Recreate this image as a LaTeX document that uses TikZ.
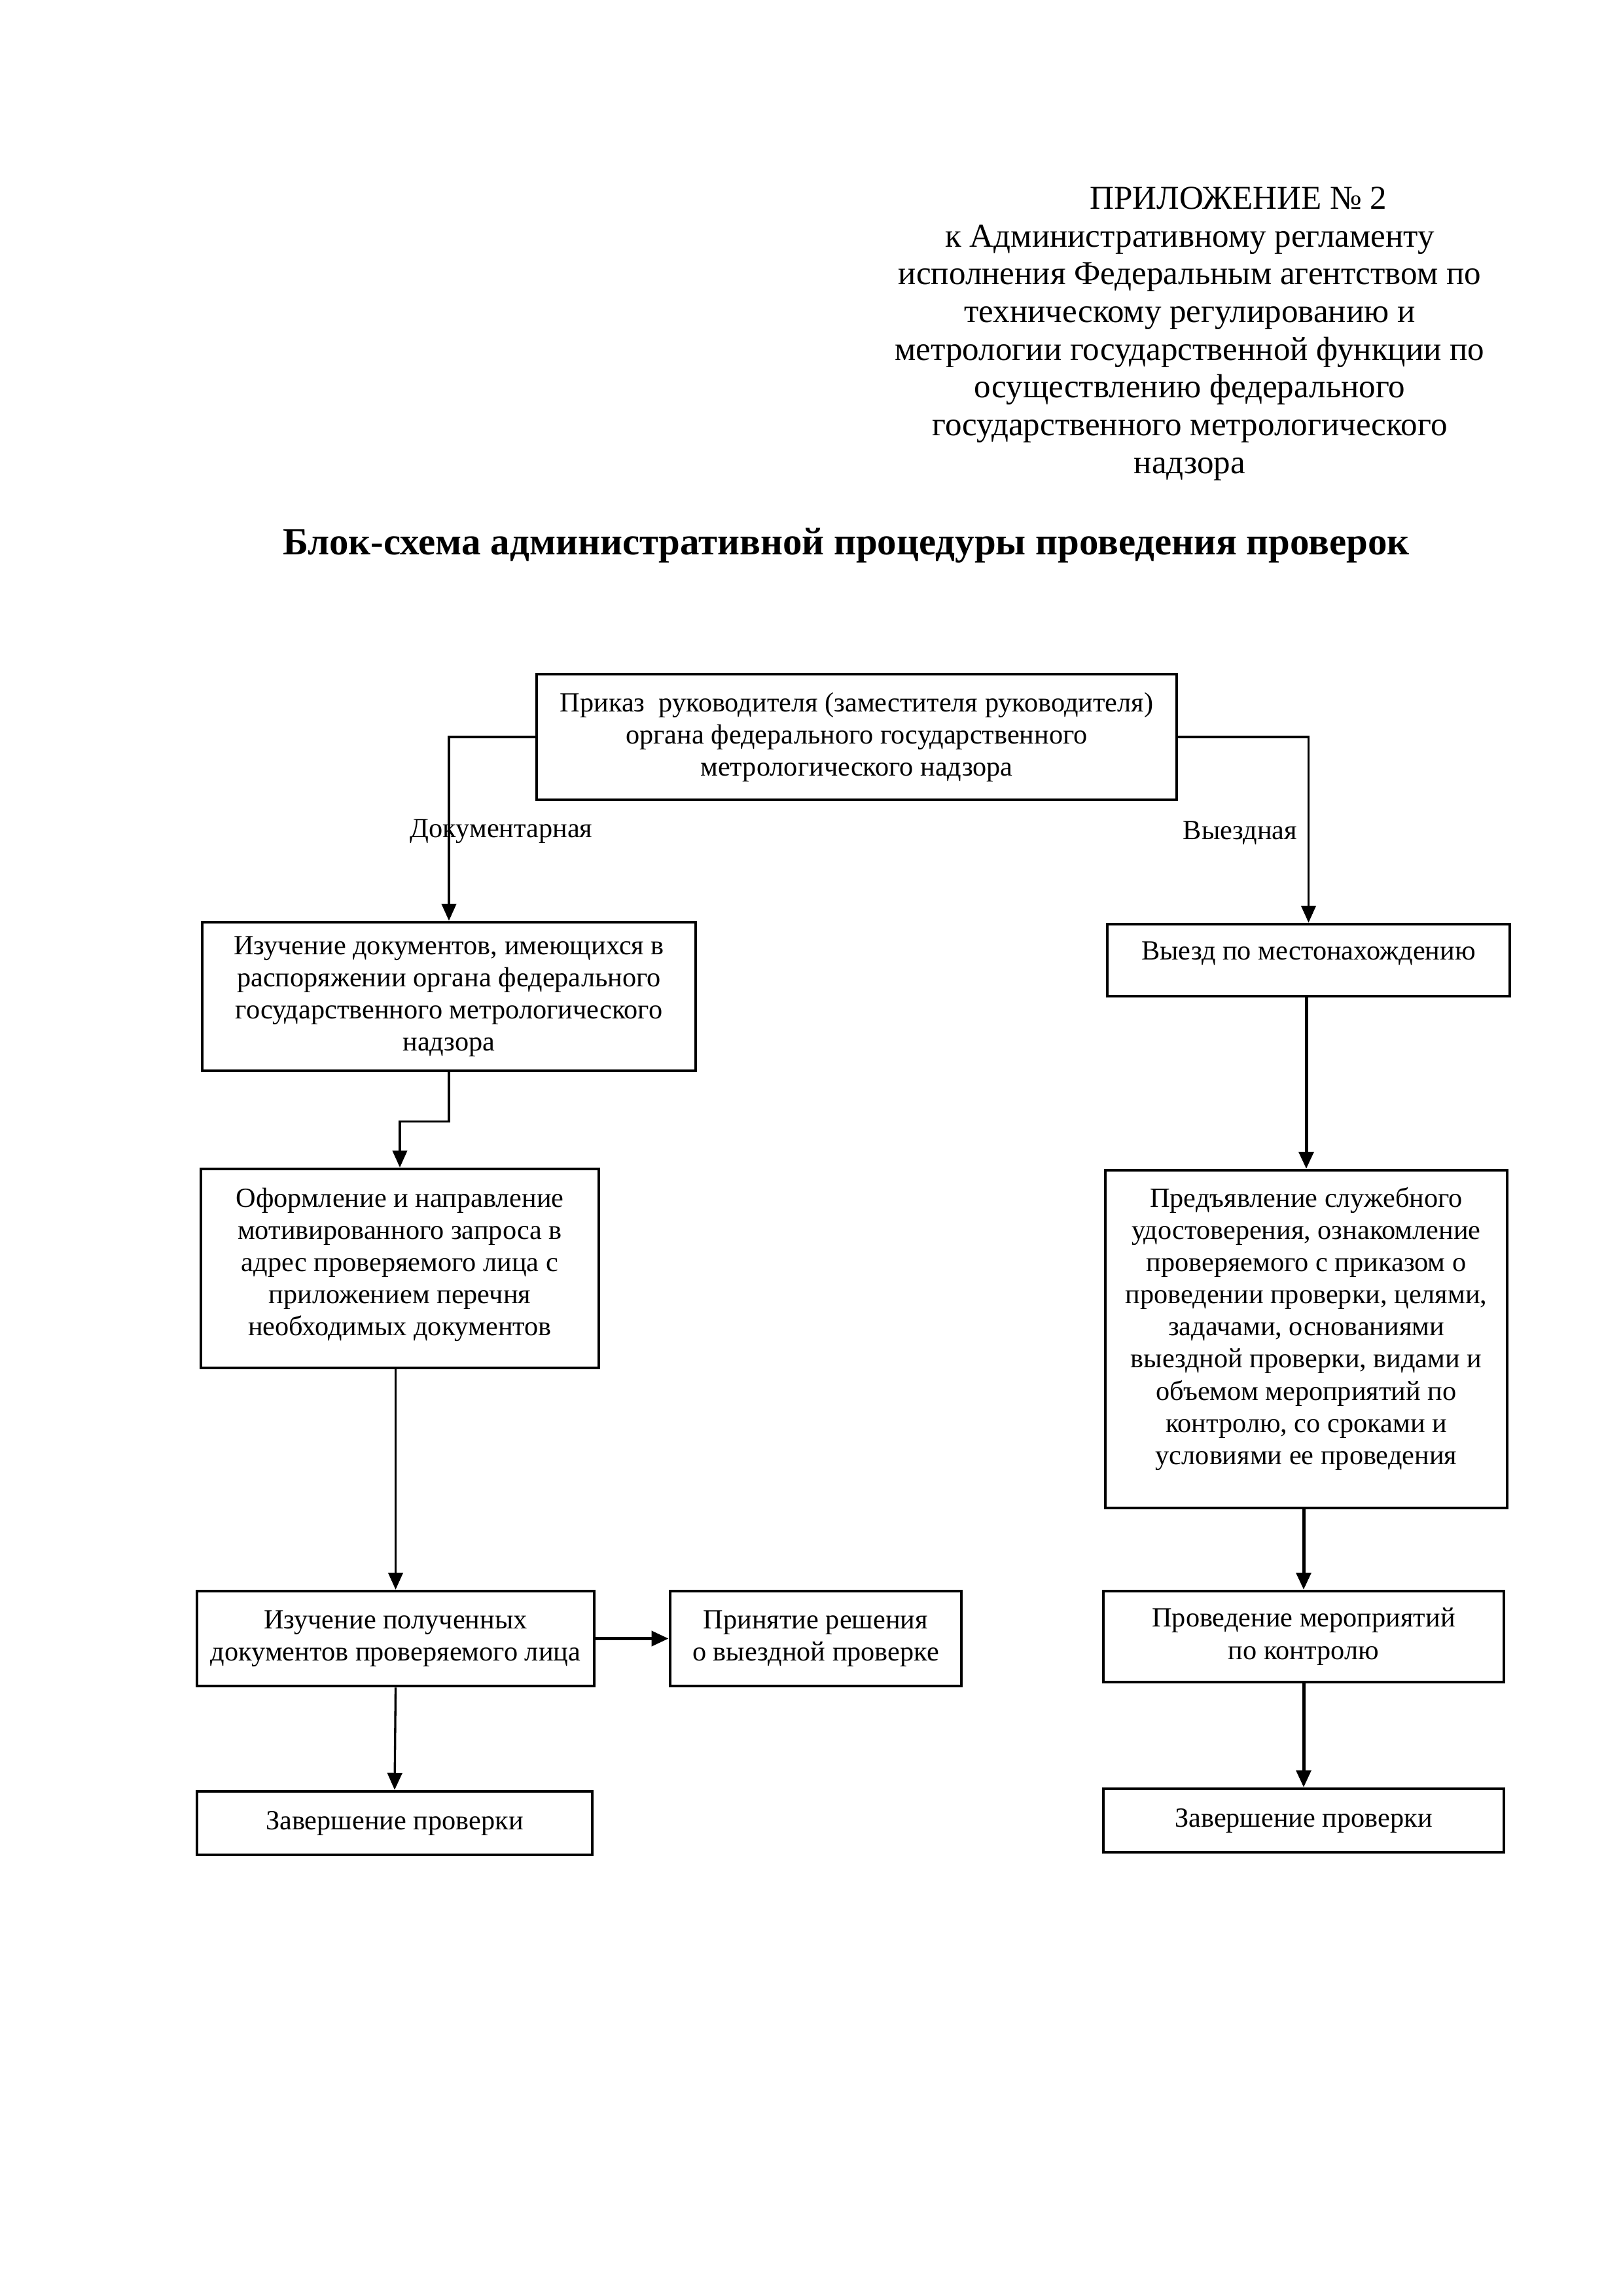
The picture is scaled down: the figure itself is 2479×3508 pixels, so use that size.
\documentclass[tikz,border=0pt]{standalone}
\usepackage{fontspec}
\setmainfont{Liberation Serif}
\usetikzlibrary{arrows.meta}

\tikzset{
  blok/.style={draw, line width=1.1pt, align=center, inner sep=1pt,
    font=\fontsize{10.2}{11.85}\selectfont},
  svyaz/.style={line width=0.8pt, -{Triangle[length=2.2mm, width=1.9mm]}},
  svyazR/.style={svyaz, line width=1.2pt},
  metka/.style={font=\fontsize{10.2}{11.85}\selectfont, inner sep=0pt, anchor=base}
}

\begin{document}
\begin{tikzpicture}[x=0.084711mm, y=-0.084711mm]
\useasboundingbox (0,0) rectangle (2479,3508);

% header and title
\node (pril) [anchor=north, inner sep=0pt, align=center, font=\fontsize{12.3}{13.9}\selectfont] at (1818,285)
  {\hspace*{12.6mm}ПРИЛОЖЕНИЕ № 2\\
   к Административному регламенту\\
   исполнения Федеральным агентством по\\
   техническому регулированию и\\
   метрологии государственной функции по\\
   осуществлению федерального\\
   государственного метрологического\\
   надзора};
\node (zagl) [anchor=base, inner sep=0pt, font=\fontsize{14.2}{16}\selectfont\bfseries] at (1293,847)
  {Блок-схема административной процедуры проведения проверок};

% boxes
\node (prikaz) [blok, minimum width=82.85mm, minimum height=16.26mm] at (1309,1126)
  {Приказ\ \ руководителя (заместителя руководителя)\\органа федерального государственного\\метрологического надзора};
\node (doc1) [blok, minimum width=63.87mm, minimum height=19.23mm] at (686,1522.5)
  {Изучение документов, имеющихся в\\распоряжении органа федерального\\государственного метрологического\\надзора};
\node (doc2) [blok, minimum width=51.50mm, minimum height=25.75mm] at (611,1938)
  {Оформление и направление\\мотивированного запроса в\\адрес проверяемого лица с\\приложением перечня\\необходимых документов\\[-7pt]\mbox{}};
\node (doc3) [blok, minimum width=51.42mm, minimum height=12.28mm] at (604.5,2503.5)
  {Изучение полученных\\документов проверяемого лица};
\node (reshenie) [blok, minimum width=37.70mm, minimum height=12.28mm] at (1246.5,2503.5)
  {Принятие решения\\о выездной проверке};
\node (konec1) [blok, minimum width=51.17mm, minimum height=8.22mm] at (603,2785.5)
  {Завершение проверки};

\node (vyezd) [blok, minimum width=52.10mm, minimum height=9.32mm] at (1999.5,1467)
  {Выезд по местонахождению\\[-5pt]\mbox{}};
\node (pred) [blok, minimum width=52.01mm, minimum height=43.71mm] at (1996,2046)
  {Предъявление служебного\\удостоверения, ознакомление\\проверяемого с приказом о\\проведении проверки, целями,\\задачами, основаниями\\выездной проверки, видами и\\объемом мероприятий по\\контролю, со сроками и\\условиями ее проведения\\[-2pt]\mbox{}};
\node (meropr) [blok, minimum width=51.84mm, minimum height=11.77mm] at (1992,2500.5)
  {Проведение мероприятий\\по контролю};
\node (konec2) [blok, minimum width=51.84mm, minimum height=8.22mm] at (1992,2781.5)
  {Завершение проверки};

% labels
\node (lbl1) [metka] at (766,1279) {Документарная};
\node (lbl2) [metka] at (1895,1282) {Выездная};

% connectors
\draw[svyaz] (prikaz.west) -| (doc1.north);
\draw[svyaz] (prikaz.east) -| (vyezd.north);
\draw[svyaz] (doc1.south) -- ++(0,75) -| (doc2.north);
\draw[svyaz] (doc2.south -| doc3.north) -- (doc3.north);
\draw[svyaz, line width=1.3pt] (doc3.east) -- (reshenie.west);
\draw[svyaz] (doc3.south) -- (konec1.north);
\draw[svyazR] (vyezd.south -| pred.north) -- (pred.north);
\draw[svyazR] (pred.south -| meropr.north) -- (meropr.north);
\draw[svyazR] (meropr.south) -- (konec2.north);
\end{tikzpicture}
\end{document}
